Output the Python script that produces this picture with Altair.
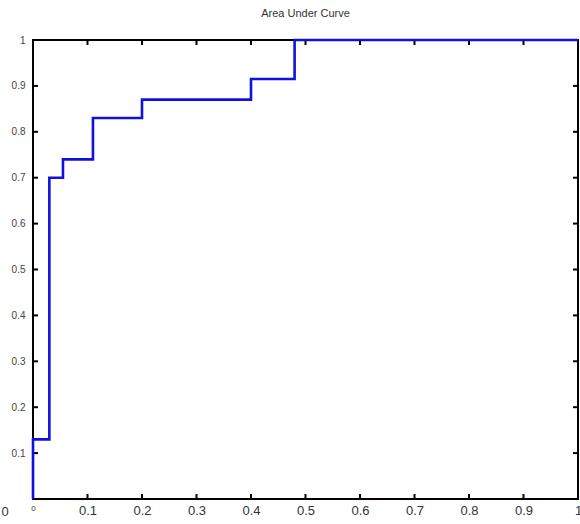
import altair as alt
import pandas as pd

# ROC step curve (false positive rate, true positive rate)
fpr = [0.0, 0.0, 0.03, 0.055, 0.11, 0.20, 0.40, 0.48, 1.0]
tpr = [0.0, 0.13, 0.70, 0.74, 0.83, 0.87, 0.915, 1.0, 1.0]
tick_vals = [0.1, 0.2, 0.3, 0.4, 0.5, 0.6, 0.7, 0.8, 0.9]
x_labels = [0, 0.1, 0.2, 0.3, 0.4, 0.5, 0.6, 0.7, 0.8, 0.9, 1]
y_labels = [0.1, 0.2, 0.3, 0.4, 0.5, 0.6, 0.7, 0.8, 0.9, 1]
title = "Area Under Curve"

curve = pd.DataFrame({"x": fpr, "y": tpr, "o": list(range(len(fpr)))})
ticks = pd.DataFrame({"v": tick_vals})

xs = alt.Scale(domain=[0, 1], nice=False, zero=False)
ys = alt.Scale(domain=[0, 1], nice=False, zero=False)

W, H = 545, 459

frame = alt.Chart(pd.DataFrame({"a": [0]})).mark_rect(
    fill=None, stroke="black", strokeWidth=2
).encode(x=alt.value(0), x2=alt.value(W), y=alt.value(0), y2=alt.value(H))

xt_bottom = alt.Chart(ticks).mark_rule(color="black", strokeWidth=2).encode(
    x=alt.X("v:Q", scale=xs), y=alt.value(H), y2=alt.value(H - 5))
xt_top = alt.Chart(ticks).mark_rule(color="black", strokeWidth=2).encode(
    x=alt.X("v:Q", scale=xs), y=alt.value(0), y2=alt.value(5))
yt_left = alt.Chart(ticks).mark_rule(color="black", strokeWidth=2).encode(
    y=alt.Y("v:Q", scale=ys), x=alt.value(0), x2=alt.value(5))
yt_right = alt.Chart(ticks).mark_rule(color="black", strokeWidth=2).encode(
    y=alt.Y("v:Q", scale=ys), x=alt.value(W), x2=alt.value(W - 5))

line = alt.Chart(curve).mark_line(
    interpolate="step-after", color="#1010e0", strokeWidth=2.6, clip=False
).encode(
    x=alt.X("x:Q", scale=xs, axis=alt.Axis(
        values=x_labels, title=None, domain=False, ticks=False, grid=False,
        labelFontSize={"condition": {"test": "datum.value == 0", "value": 8}, "value": 13},
        labelColor="#333", labelFont="Liberation Sans", labelPadding=5,
        labelFlush=False, labelOverlap=False,
        labelExpr="format(datum.value, '~g')")),
    y=alt.Y("y:Q", scale=ys, axis=alt.Axis(
        values=y_labels, title=None, domain=False, ticks=False, grid=False,
        labelFontSize=10, labelColor="#444", labelFont="Liberation Sans",
        labelPadding=8, labelFlush=False, labelOverlap=False,
        labelExpr="format(datum.value, '~g')")),
    order="o:Q",
)

zero_lbl = alt.Chart(pd.DataFrame({"x": [0.0], "y": [0.0], "t": ["0"]})).mark_text(
    fontSize=13, color="#333", font="Liberation Sans", dx=-28, dy=13
).encode(x=alt.X("x:Q", scale=xs), y=alt.Y("y:Q", scale=ys), text="t:N")

chart = alt.layer(frame, xt_bottom, xt_top, yt_left, yt_right, line, zero_lbl).properties(
    width=W, height=H,
    title=alt.TitleParams(title, fontSize=11, font="Liberation Sans", color="#333",
                          fontWeight="normal", anchor="middle", offset=16),
    autosize=alt.AutoSizeParams(type="none"),
    padding={"left": 33, "top": 40, "right": 2, "bottom": 25},
).configure_view(stroke=None).configure(background="white")

chart.save("out.html", embed_options={"renderer": "svg", "actions": False})
